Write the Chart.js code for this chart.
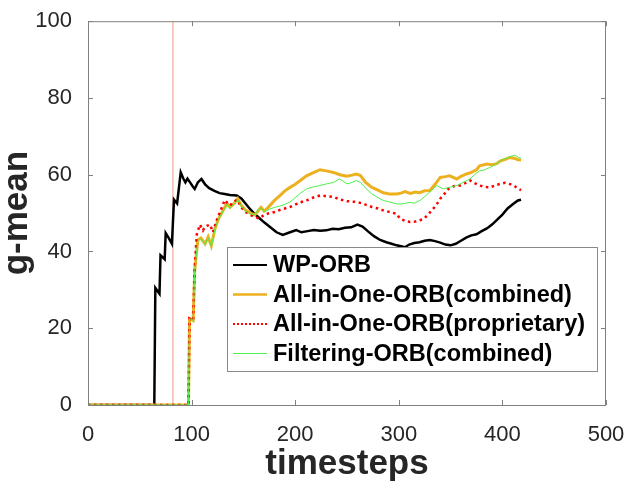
<!DOCTYPE html>
<html>
<head>
<meta charset="utf-8">
<script src="https://cdn.jsdelivr.net/npm/chart.js@4/dist/chart.umd.min.js"></script>
<style>
  html, body { margin: 0; padding: 0; background: #fff; }
  #wrap { width: 627px; height: 489px; }
</style>
</head>
<body>
<div id="wrap"><canvas id="myChart" width="627" height="489"></canvas></div>
<script>
// series names, in plotting order
var seriesNames = ['WP-ORB', 'All-in-One-ORB(combined)', 'All-in-One-ORB(proprietary)', 'Filtering-ORB(combined)'];

// WP-ORB
var wpX = [0, 64, 65, 69, 70, 72, 74, 75, 78, 81, 83, 86, 89.5, 92, 94, 96, 98.5, 101, 103, 106, 109.5, 113, 117, 122, 127, 132, 137, 143.5, 148, 152, 156, 160, 165, 170, 176, 182, 188, 195, 201, 206, 212, 218, 224, 230, 236, 242, 248, 254, 260, 265, 270, 276, 282, 288, 293, 298, 303, 306, 310, 315, 320, 325, 330, 335, 340, 345, 350, 355, 360, 365, 370, 375, 380, 385, 390, 395, 400, 405, 410, 415, 418];
var wpY = [0, 0, 30.5, 29, 39, 38.5, 38, 44.8, 43.5, 42, 53.5, 52.5, 60.6, 59, 58, 59, 58, 57, 56.3, 58, 58.9, 57.5, 56.5, 55.8, 55.2, 55, 54.7, 54.6, 53.8, 52.5, 51.2, 50, 48.8, 47.6, 46.3, 45, 44.3, 45, 45.6, 45, 45.3, 45.6, 45.4, 45.5, 45.9, 45.8, 46.2, 46.3, 47, 46.5, 45.3, 44, 43, 42.4, 42, 41.6, 41.3, 41.1, 41.8, 42.2, 42.4, 42.8, 43, 42.7, 42.3, 41.8, 41.6, 42, 42.8, 43.6, 44.2, 44.5, 45.3, 46, 47, 48.3, 49.6, 51.2, 52.3, 53.3, 53.5];

// All-in-One-ORB(combined)
var aioX = [0, 97, 98, 101.5, 103, 106, 109, 113, 116, 119, 122.6, 126, 130, 134, 137, 141, 144.5, 148, 152, 157, 161, 164, 167, 170, 174, 180, 185, 190, 195, 200, 205, 211, 217, 224, 230, 237, 243, 250, 255, 259, 263, 268, 274, 280, 285, 291, 298, 302, 306, 311, 316, 320, 325, 330, 335, 340, 345, 349, 356, 360, 365.5, 370, 375, 378, 385, 390, 394.5, 398, 403, 407, 411, 415, 418];
var aioY = [0, 0, 22.5, 22, 35, 43, 43.5, 42, 43.8, 41.5, 46, 48.5, 50.5, 52.5, 51.5, 52.5, 53.8, 52, 50.8, 50, 49.5, 50.5, 51.5, 50.5, 51.5, 53.3, 54.5, 55.8, 56.7, 57.5, 58.5, 59.7, 60.5, 61.3, 61, 60.6, 60, 59.6, 59.9, 60.2, 59.8, 58, 56.7, 56, 55.3, 55, 55, 55.2, 55.6, 55.1, 55.5, 55.3, 55.8, 55.9, 57.5, 59.3, 59.5, 59.7, 58.9, 59.6, 60.2, 60.6, 61.3, 62.3, 62.8, 62.6, 62.9, 63.6, 64, 64.5, 64.3, 63.9, 63.8];

// All-in-One-ORB(proprietary)
var propX = [0, 97, 98, 101.5, 103, 105, 108, 111, 113, 117.8, 120.6, 124, 127, 130, 132, 135, 137, 141, 144, 148, 152, 157, 161, 165, 170, 175, 180.5, 185, 190, 195, 200, 205, 211, 217, 224, 230, 237, 243, 250, 255, 259, 265, 270, 274, 280, 285, 291, 298, 301, 306, 310.8, 316, 323.4, 328, 331.7, 336, 339.8, 344, 347.8, 353, 359, 364, 368.7, 373, 378, 383, 388, 395, 402.5, 408, 412, 415.4, 418];
var propY = [0, 0, 22.5, 22, 36, 44.4, 47, 45.5, 46.5, 47, 45, 48, 50, 52, 53.4, 52.5, 52, 53, 53.5, 51.5, 50.3, 49.5, 49, 48.6, 49.5, 50, 50.3, 50.8, 51.2, 51.6, 52.2, 52.8, 53.3, 54, 54.6, 54.4, 54.2, 53.6, 53.1, 53, 52.9, 52.5, 52, 51.6, 51.2, 50.7, 50.3, 49.8, 48.6, 48, 47.7, 47.8, 48.4, 49.5, 50.7, 52, 53.7, 55, 56.3, 57, 57.2, 57.8, 58.5, 57.8, 57.2, 56.8, 56.7, 57.4, 57.9, 57.5, 57, 56.3, 56];

// Filtering-ORB(combined)
var filtX = [0, 97, 98, 101.5, 103, 106, 109, 113, 116, 119, 122.6, 126, 130, 134, 137, 141, 144.5, 148, 152, 157, 161, 164, 167, 170, 175, 180, 185, 190, 195, 200, 205, 211, 217, 224, 230, 237, 243, 247, 250, 255, 259, 263, 268, 274, 280, 285, 291, 298, 304, 310, 315, 320.5, 325, 330, 336.6, 343, 350, 356, 362, 368.7, 373, 378, 383, 388, 394, 400.6, 406, 412, 415.4, 418];
var filtY = [0, 0, 22.5, 22, 35, 42.8, 43.3, 41.8, 43.5, 41.3, 46, 48.5, 50.3, 52.3, 51.3, 52.3, 53.5, 51.8, 50.5, 49.8, 49.5, 50.8, 51.3, 50.3, 51, 51.5, 51.8, 52.3, 52.9, 54, 55.2, 56.3, 56.8, 57.2, 57.6, 58, 58.9, 58.2, 57.6, 58, 58.5, 58, 56.5, 55, 54, 53.3, 52.9, 52.4, 52.4, 52.8, 52.6, 53.3, 54.3, 55.5, 57.2, 56.3, 56.8, 57.2, 58, 58.9, 60, 61, 61.3, 61.9, 62.8, 64, 64.6, 65.1, 64.5, 64.3];

// thin vertical marker line
var markX = [82, 82];
var markY = [0, 100];

// axis ticks
var xTicks = [0, 100, 200, 300, 400, 500];
var yTicks = [0, 20, 40, 60, 80, 100];

var font = "'Liberation Sans', Arial, Helvetica, sans-serif";

function pts(xs, ys) {
  return xs.map(function (x, i) { return { x: x, y: ys[i] }; });
}

var colors = ['#000000', '#EDB120', '#FF0000', '#4DF04D'];
var widths = [2.5, 3, 2.5, 1];
var dashes = [[], [], [2.5, 3.5], []];
var dashesLegend = [[], [], [2, 2], []];

// box, inward ticks and legend drawn on top
var framePlugin = {
  id: 'frame',
  afterDraw: function (chart) {
    var ctx = chart.ctx;
    var a = chart.chartArea;
    var xs = chart.scales.x, ys = chart.scales.y;
    ctx.save();
    ctx.strokeStyle = '#808080';
    ctx.lineWidth = 1;
    ctx.strokeRect(a.left + 0.5, a.top + 0.5, a.right - a.left - 1, a.bottom - a.top);
    ctx.beginPath();
    xTicks.forEach(function (v) {
      var px = Math.round(xs.getPixelForValue(v)) + 0.5;
      ctx.moveTo(px, a.bottom); ctx.lineTo(px, a.bottom - 5);
      ctx.moveTo(px, a.top); ctx.lineTo(px, a.top + 5);
    });
    yTicks.forEach(function (v) {
      var py = Math.round(ys.getPixelForValue(v)) + 0.5;
      ctx.moveTo(a.left, py); ctx.lineTo(a.left + 5, py);
      ctx.moveTo(a.right, py); ctx.lineTo(a.right - 5, py);
    });
    ctx.stroke();

    // legend
    var bx = a.right - 379, by = a.bottom - 158, bw = 370, bh = 124;
    ctx.fillStyle = '#ffffff';
    ctx.fillRect(bx, by, bw, bh);
    ctx.strokeStyle = '#8a8a8a';
    ctx.strokeRect(bx + 0.5, by + 0.5, bw, bh);
    ctx.font = 'bold 23.5px ' + font;
    ctx.textBaseline = 'middle';
    ctx.textAlign = 'left';
    seriesNames.forEach(function (name, i) {
      var cy = by + 18 + i * 29.5;
      ctx.beginPath();
      ctx.strokeStyle = colors[i];
      ctx.lineWidth = i === 1 ? 2.5 : (i === 3 ? 1 : 2);
      ctx.setLineDash(dashesLegend[i]);
      ctx.moveTo(bx + 6, cy); ctx.lineTo(bx + 40, cy);
      ctx.stroke();
      ctx.setLineDash([]);
      ctx.fillStyle = '#000000';
      ctx.fillText(name, bx + 46, cy + 1);
    });
    ctx.restore();
  }
};

var allX = [wpX, aioX, propX, filtX];
var allY = [wpY, aioY, propY, filtY];

var datasets = seriesNames.map(function (name, i) {
  return {
    label: name,
    data: pts(allX[i], allY[i]),
    borderColor: colors[i],
    borderWidth: widths[i],
    borderDash: dashes[i],
    pointRadius: 0,
    tension: 0,
    fill: false,
    order: 4 - i
  };
});
datasets.push({
  label: 'marker',
  data: pts(markX, markY),
  borderColor: '#EE9A7A',
  borderWidth: 1,
  pointRadius: 0,
  fill: false,
  order: 5
});

var ctx = document.getElementById('myChart');
var myChart = new Chart(ctx, {
  type: 'line',
  data: { datasets: datasets },
  plugins: [framePlugin],
  options: {
    responsive: false,
    animation: false,
    layout: { padding: { top: 17, right: 21, left: 0, bottom: 0 } },
    plugins: { legend: { display: false }, tooltip: { enabled: false } },
    scales: {
      x: {
        type: 'linear',
        min: 0, max: 500,
        afterBuildTicks: function (s) { s.ticks = xTicks.map(function (v) { return { value: v }; }); },
        afterFit: function (s) { s.height = 84; s.paddingRight = 0; },
        grid: { display: false },
        border: { display: false },
        ticks: { color: '#262626', padding: 9, maxRotation: 0, font: { family: font, size: 22 } },
        title: { display: true, text: 'timesteps', color: '#262626', padding: { bottom: 4, top: 0 },
                 font: { family: font, size: 35, weight: 'bold' } }
      },
      y: {
        type: 'linear',
        min: 0, max: 100,
        afterBuildTicks: function (s) { s.ticks = yTicks.map(function (v) { return { value: v }; }); },
        afterFit: function (s) { s.width = 88; },
        grid: { display: false },
        border: { display: false },
        ticks: { color: '#262626', padding: 8, font: { family: font, size: 22 } },
        title: { display: true, text: 'g-mean', color: '#262626', padding: { top: 0, bottom: 0 },
                 font: { family: font, size: 35, weight: 'bold', lineHeight: 1 } }
      }
    }
  }
});
</script>
</body>
</html>
